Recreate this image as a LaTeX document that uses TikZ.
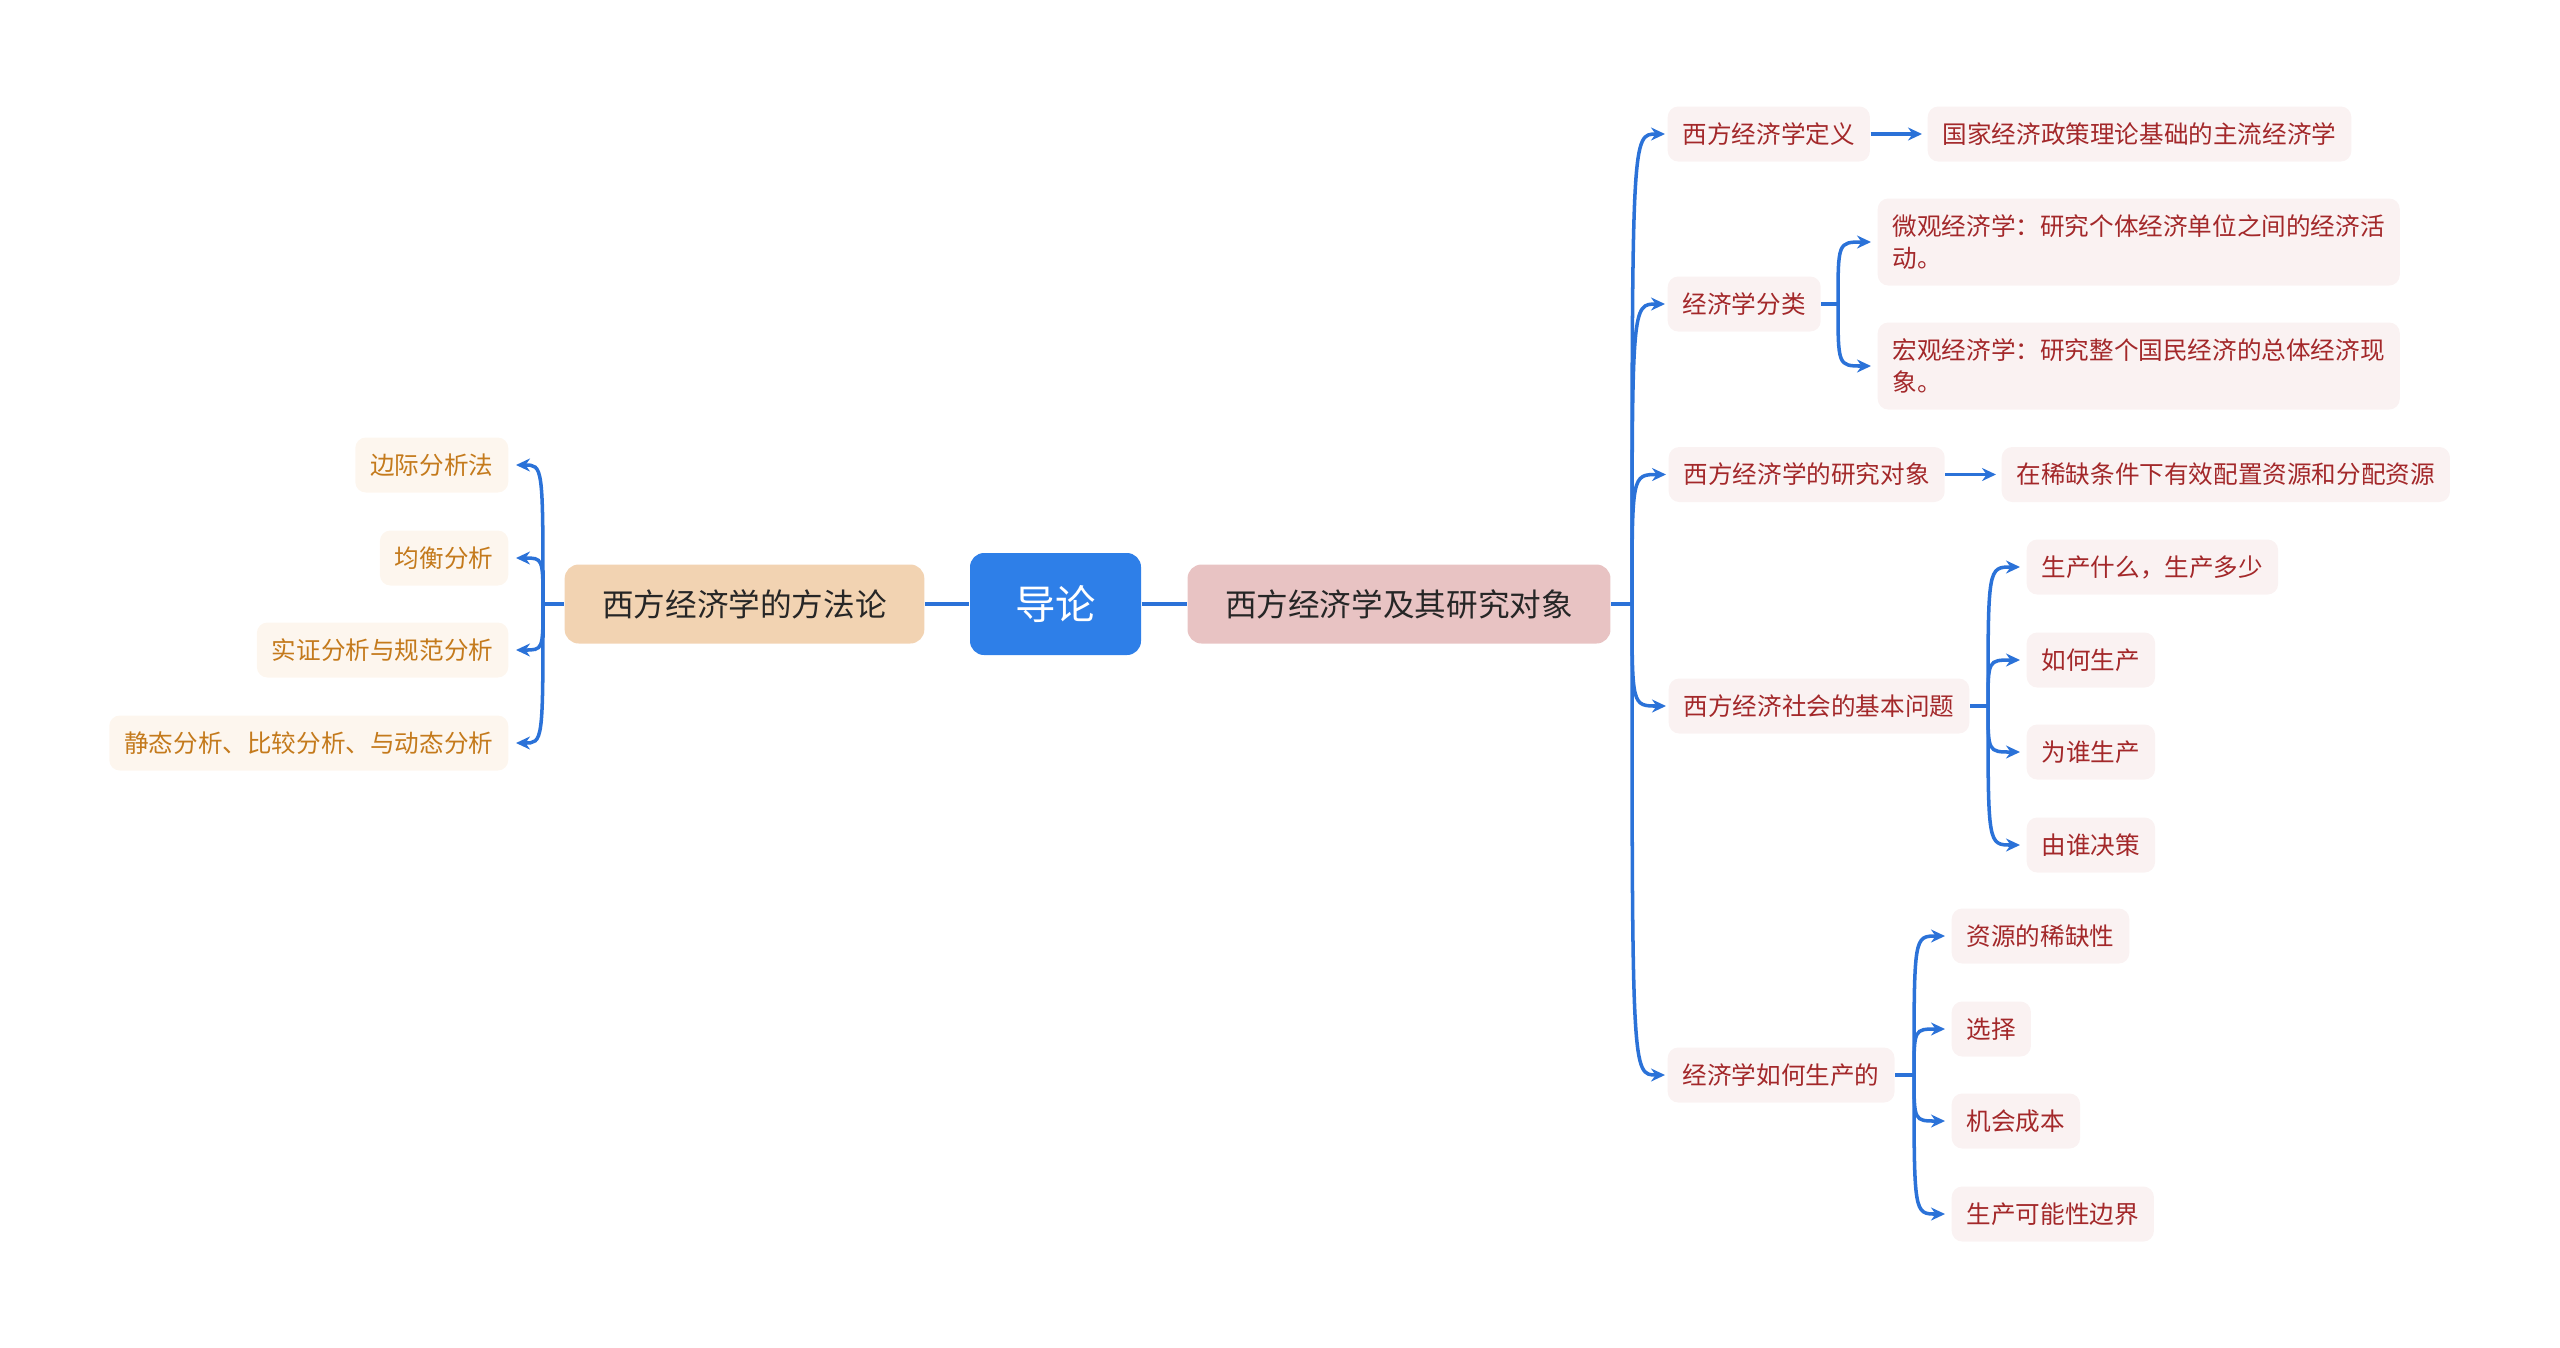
\documentclass[tikz,border=0pt]{standalone}
\usepackage{fontspec}
\setmainfont{Noto Sans CJK SC}
\usetikzlibrary{positioning,arrows.meta}
\definecolor{rootblue}{HTML}{2E7FE8}
\definecolor{linkblue}{HTML}{2B72D8}
\definecolor{peach}{HTML}{F2D3B2}
\definecolor{rose}{HTML}{E8C3C3}
\definecolor{lfill}{HTML}{FDF6EE}
\definecolor{ltext}{HTML}{C47A1C}
\definecolor{rfill}{HTML}{FAF2F2}
\definecolor{rtext}{HTML}{A3282A}

\begin{document}
\begin{tikzpicture}[
  every node/.style={font=\fontsize{7}{9}\selectfont},
  root/.style={fill=rootblue, rounded corners=4pt, text=white, minimum width=1.71cm, minimum height=1.02cm, inner sep=0pt, font=\fontsize{11.5}{13}\selectfont},
  main/.style={rounded corners=4pt, minimum height=0.79cm, inner xsep=0.375cm, inner ysep=0pt, text=black!85, font=\fontsize{9}{11}\selectfont},
  lch/.style={fill=lfill, text=ltext, rounded corners=3pt, minimum height=0.55cm, inner xsep=0.15cm, inner ysep=0pt, anchor=east},
  rch/.style={fill=rfill, text=rtext, rounded corners=3pt, minimum height=0.55cm, inner xsep=0.15cm, inner ysep=0pt, anchor=west, align=left},
  link/.style={draw=linkblue, line width=1pt},
  arr/.style={link, -{Stealth[length=0.14cm, width=0.13cm]}},
]
\useasboundingbox (0,0) rectangle (25.6,-13.47);

% ── centre ──
\node[root] (root) at (10.555,-6.04) {导论};
\node[main, fill=peach] (meth) at (7.445,-6.04) {西方经济学的方法论};
\node[main, fill=rose]  (obj)  at (13.99,-6.04) {西方经济学及其研究对象};

\draw[link] (root) -- (meth);
\draw[link] (root) -- (obj);

% ── left: methods ──
\node[lch] (L1) at (5.09,-4.65) {边际分析法};
\node[lch] (L2) at (5.09,-5.58) {均衡分析};
\node[lch] (L3) at (5.09,-6.50) {实证分析与规范分析};
\node[lch] (L4) at (5.09,-7.43) {静态分析、比较分析、与动态分析};

\coordinate (jL) at (5.43,-6.04);
\draw[link] (meth) -- (jL);
\foreach \n in {L1,L2,L3,L4}{
  \draw[arr] (jL) .. controls (jL |- \n) .. ([xshift=0.07cm]\n.east);
}

% ── right: object of study ──
\node[rch] (R1) at (16.67,-1.34)  {西方经济学定义};
\node[rch] (R2) at (16.67,-3.04)  {经济学分类};
\node[rch] (R3) at (16.68,-4.745) {西方经济学的研究对象};
\node[rch] (R4) at (16.68,-7.06)  {西方经济社会的基本问题};
\node[rch] (R5) at (16.67,-10.75) {经济学如何生产的};

\coordinate (jR) at (16.32,-6.04);
\draw[link] (obj) -- (jR);
\foreach \n in {R1,R2,R3,R4,R5}{
  \draw[arr] (jR) .. controls (jR |- \n) .. ([xshift=-0.02cm]\n.west);
}

% definition, object
\node[rch] (R1a) at (19.27,-1.34)  {国家经济政策理论基础的主流经济学};
\node[rch] (R3a) at (20.01,-4.745) {在稀缺条件下有效配置资源和分配资源};
\draw[arr] (R1) -- ([xshift=-0.05cm]R1a.west);
\draw[arr] (R3) -- ([xshift=-0.05cm]R3a.west);

% classification
\node[rch, minimum height=0.87cm] (R2a) at (18.77,-2.42) {微观经济学：研究个体经济单位之间的经济活\\动。};
\node[rch, minimum height=0.87cm] (R2b) at (18.77,-3.66) {宏观经济学：研究整个国民经济的总体经济现\\象。};
\coordinate (jR2) at (18.38,-3.04);
\draw[link] (R2) -- (jR2);
\foreach \n in {R2a,R2b}{
  \draw[arr] (jR2) .. controls (jR2 |- \n) .. ([xshift=-0.06cm]\n.west);
}

% basic problems
\node[rch] (R4a) at (20.26,-5.67) {生产什么，生产多少};
\node[rch] (R4b) at (20.26,-6.60) {如何生产};
\node[rch] (R4c) at (20.26,-7.52) {为谁生产};
\node[rch] (R4d) at (20.26,-8.45) {由谁决策};
\coordinate (jR4) at (19.88,-7.06);
\draw[link] (R4) -- (jR4);
\foreach \n in {R4a,R4b,R4c,R4d}{
  \draw[arr] (jR4) .. controls (jR4 |- \n) .. ([xshift=-0.06cm]\n.west);
}

% how economics produces
\node[rch] (R5a) at (19.51,-9.36)  {资源的稀缺性};
\node[rch] (R5b) at (19.51,-10.29) {选择};
\node[rch] (R5c) at (19.51,-11.21) {机会成本};
\node[rch] (R5d) at (19.51,-12.14) {生产可能性边界};
\coordinate (jR5) at (19.14,-10.75);
\draw[link] (R5) -- (jR5);
\foreach \n in {R5a,R5b,R5c,R5d}{
  \draw[arr] (jR5) .. controls (jR5 |- \n) .. ([xshift=-0.06cm]\n.west);
}

\end{tikzpicture}
\end{document}
